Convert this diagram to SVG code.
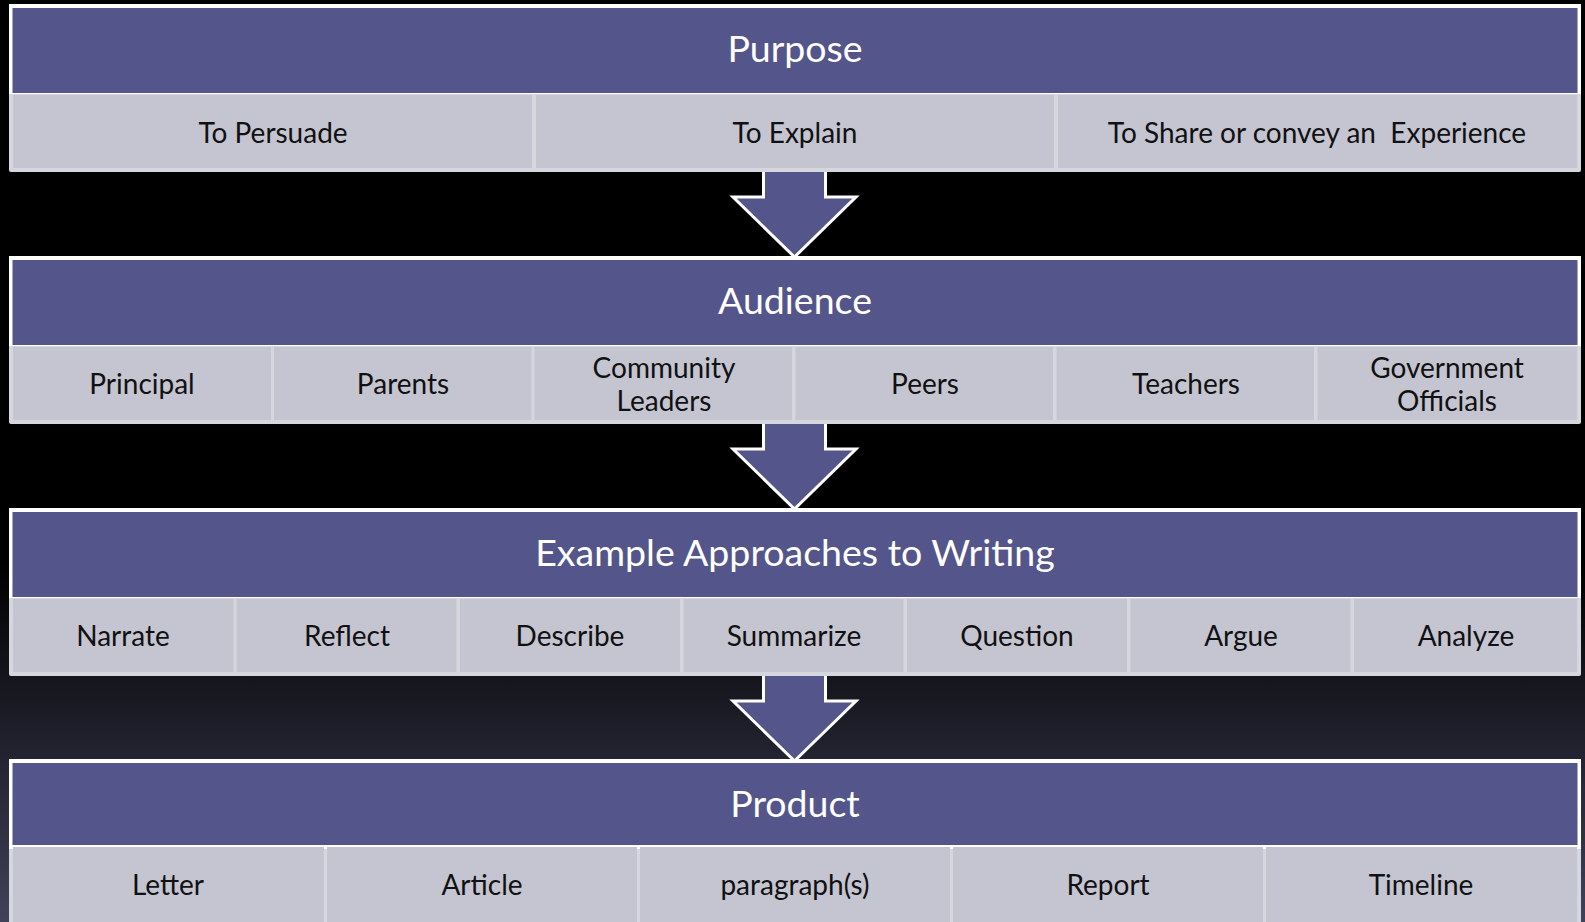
<svg xmlns="http://www.w3.org/2000/svg" width="1585" height="922" viewBox="0 0 1585 922">
<defs>
<linearGradient id="bg" gradientUnits="userSpaceOnUse" x1="0" y1="560" x2="0" y2="922">
<stop offset="0" stop-color="#000000"/>
<stop offset="1" stop-color="#41415a"/>
</linearGradient>
<style>
.frame{fill:#d6d6de}
.hdrframe{fill:#ffffff}
.hdr{fill:#54558a}
.cell{fill:#c5c5d1}
.title{font-family:Lato,"Open Sans","Liberation Sans",sans-serif;font-size:37.5px;fill:#ffffff;text-anchor:middle}
.lbl{font-family:Lato,"Open Sans","Liberation Sans",sans-serif;font-size:28px;fill:#111111;text-anchor:middle}
.arrow{fill:#54558a;stroke:#ffffff;stroke-width:3;stroke-linejoin:miter}
</style>
</defs>
<rect x="0" y="0" width="1585" height="922" fill="url(#bg)"/>

<g id="connectors">
<polygon class="arrow" points="763.5,160 763.5,197 733,197 794.5,257 856,197 825.5,197 825.5,160"/>
<polygon class="arrow" points="763.5,412 763.5,449 733,449 794.5,509 856,449 825.5,449 825.5,412"/>
<polygon class="arrow" points="763.5,664 763.5,701 733,701 794.5,761 856,701 825.5,701 825.5,664"/>
</g>

<g id="purpose">
<rect class="frame" x="9" y="4" width="1572" height="168" rx="2"/>
<rect class="hdrframe" x="9" y="4" width="1572" height="90"/>
<rect class="hdr" x="12.5" y="8" width="1565" height="85"/>
<rect class="cell" x="13" y="95" width="519" height="73"/>
<rect class="cell" x="536" y="95" width="518" height="73"/>
<rect class="cell" x="1058" y="95" width="519" height="73"/>
<text class="title" x="795" y="62">Purpose</text>
<text class="lbl" x="273" y="143">To Persuade</text>
<text class="lbl" x="795" y="143">To Explain</text>
<text class="lbl" x="1317" y="143" xml:space="preserve">To Share or convey an  Experience</text>
</g>

<g id="audience">
<rect class="frame" x="9" y="256" width="1572" height="168" rx="2"/>
<rect class="hdrframe" x="9" y="256" width="1572" height="90"/>
<rect class="hdr" x="12.5" y="260" width="1565" height="85"/>
<rect class="cell" x="13" y="347" width="258" height="73"/>
<rect class="cell" x="274" y="347" width="257.5" height="73"/>
<rect class="cell" x="534.5" y="347" width="257.5" height="73"/>
<rect class="cell" x="795.5" y="347" width="257.5" height="73"/>
<rect class="cell" x="1056.5" y="347" width="257.5" height="73"/>
<rect class="cell" x="1317.5" y="347" width="259.5" height="73"/>
<text class="title" x="795" y="314">Audience</text>
<text class="lbl" x="142" y="394">Principal</text>
<text class="lbl" x="403" y="394">Parents</text>
<text class="lbl" x="664" y="378">Community</text>
<text class="lbl" x="664" y="411">Leaders</text>
<text class="lbl" x="925" y="394">Peers</text>
<text class="lbl" x="1186" y="394">Teachers</text>
<text class="lbl" x="1447" y="378">Government</text>
<text class="lbl" x="1447" y="411">Officials</text>
</g>

<g id="approaches">
<rect class="frame" x="9" y="508" width="1572" height="168" rx="2"/>
<rect class="hdrframe" x="9" y="508" width="1572" height="90"/>
<rect class="hdr" x="12.5" y="512" width="1565" height="85"/>
<rect class="cell" x="13" y="599" width="220.5" height="73"/>
<rect class="cell" x="236.5" y="599" width="220" height="73"/>
<rect class="cell" x="460" y="599" width="220" height="73"/>
<rect class="cell" x="683.5" y="599" width="220" height="73"/>
<rect class="cell" x="907" y="599" width="220" height="73"/>
<rect class="cell" x="1130.5" y="599" width="220" height="73"/>
<rect class="cell" x="1354" y="599" width="223" height="73"/>
<text class="title" x="795" y="566">Example Approaches to Writing</text>
<text class="lbl" x="123" y="646">Narrate</text>
<text class="lbl" x="347" y="646">Reflect</text>
<text class="lbl" x="570" y="646">Describe</text>
<text class="lbl" x="794" y="646">Summarize</text>
<text class="lbl" x="1017" y="646">Question</text>
<text class="lbl" x="1241" y="646">Argue</text>
<text class="lbl" x="1466" y="646">Analyze</text>
</g>

<g id="product">
<rect class="frame" x="9" y="759" width="1572" height="168" rx="2"/>
<rect class="hdrframe" x="9" y="759" width="1572" height="90"/>
<rect class="hdr" x="12.5" y="763" width="1565" height="82"/>
<rect class="cell" x="13" y="847" width="311" height="80"/>
<rect class="cell" x="327" y="847" width="310" height="80"/>
<rect class="cell" x="640" y="847" width="310" height="80"/>
<rect class="cell" x="953" y="847" width="310" height="80"/>
<rect class="cell" x="1266" y="847" width="311" height="80"/>
<text class="title" x="795" y="817">Product</text>
<text class="lbl" x="168" y="895">Letter</text>
<text class="lbl" x="482" y="895">Article</text>
<text class="lbl" x="795" y="895">paragraph(s)</text>
<text class="lbl" x="1108" y="895">Report</text>
<text class="lbl" x="1421" y="895">Timeline</text>
</g>
</svg>
